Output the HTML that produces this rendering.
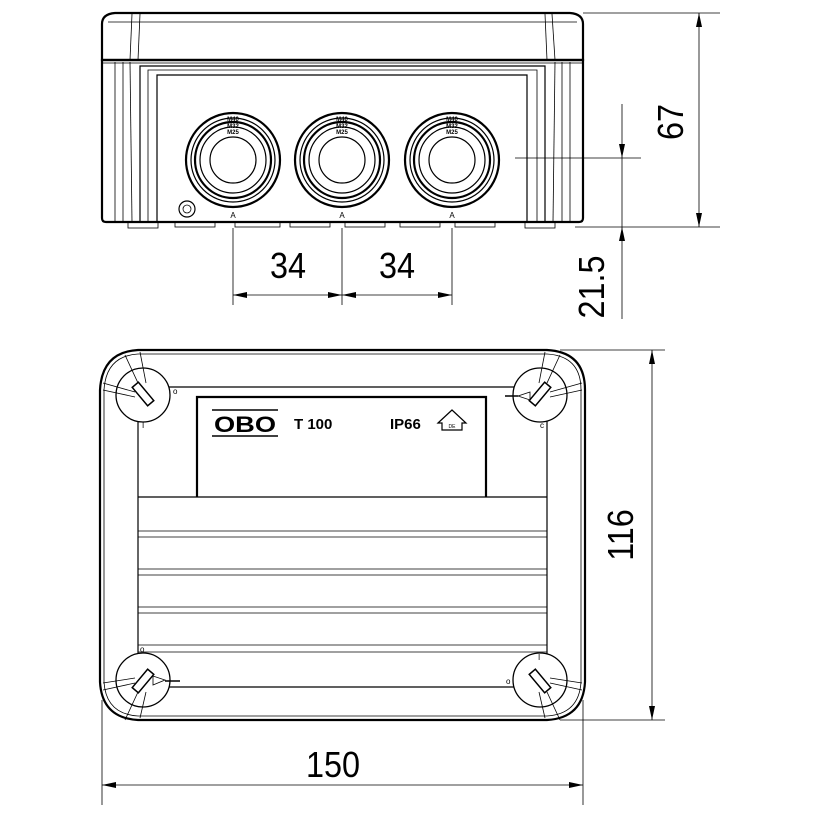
<!DOCTYPE html>
<html><head><meta charset="utf-8"><style>
html,body{margin:0;padding:0;background:#fff;width:820px;height:820px;overflow:hidden}
svg{display:block}
text{font-family:"Liberation Sans",sans-serif;fill:#000}
.t{stroke:#000;stroke-width:1.2;fill:none}
.k{stroke:#000;stroke-width:2.2;fill:none}
.th{stroke:#000;stroke-width:0.8;fill:none}
.d{font-size:36px}
</style></head><body>
<svg width="820" height="820" viewBox="0 0 820 820" xmlns="http://www.w3.org/2000/svg">
<!-- TOP VIEW -->
<path class="k" d="M102,60 L102,24 Q102,14 115,13 L570,13 Q583,14 583,24 L583,60 Z"/>
<line class="th" x1="108" y1="22" x2="577" y2="22"/>
<line class="th" x1="132" y1="14" x2="130" y2="60"/><line class="th" x1="140" y1="14" x2="138" y2="60"/>
<line class="th" x1="552" y1="14" x2="555" y2="60"/><line class="th" x1="545" y1="14" x2="547" y2="60"/>
<path class="k" d="M102,60 L102,218 Q102,222 106,222 L579,222 Q583,222 583,218 L583,60 Z"/>
<line class="th" x1="102" y1="63" x2="583" y2="63"/>
<line class="th" x1="115" y1="62" x2="115" y2="222"/><line class="th" x1="123" y1="62" x2="123" y2="222"/>
<line class="th" x1="130" y1="62" x2="132" y2="222"/>
<line class="th" x1="570" y1="62" x2="570" y2="222"/><line class="th" x1="562" y1="62" x2="562" y2="222"/>
<line class="th" x1="555" y1="62" x2="553" y2="222"/>
<path class="t" d="M140,222 L140,66 L545,66 L545,222"/>
<path class="th" d="M148,222 L148,70 L537,70 L537,222"/>
<path class="t" d="M157,222 L157,75 L527,75 L527,222"/>
<g>
<rect x="128" y="222" width="30" height="6" class="th"/><rect x="175" y="222" width="40" height="5" class="th"/>
<rect x="235" y="222" width="45" height="5" class="th"/><rect x="290" y="222" width="40" height="5" class="th"/>
<rect x="345" y="222" width="40" height="5" class="th"/><rect x="400" y="222" width="40" height="5" class="th"/>
<rect x="455" y="222" width="40" height="5" class="th"/><rect x="525" y="222" width="30" height="6" class="th"/>
</g>
<g id="gl">
<circle cx="233" cy="160" r="47" class="k"/>
<circle cx="233" cy="160" r="42" class="t"/>
<circle cx="233" cy="160" r="38" class="k"/>
<circle cx="233" cy="160" r="33" class="t"/>
<circle cx="233" cy="160" r="23" class="t"/>
<text x="233" y="121" font-size="6" text-anchor="middle" font-weight="bold">M40</text>
<text x="233" y="128" font-size="6" text-anchor="middle" font-weight="bold">M32</text>
<text x="233" y="134" font-size="6" text-anchor="middle" font-weight="bold">M25</text>
</g>
<use href="#gl" x="109"/><use href="#gl" x="219"/>
<circle cx="187" cy="209" r="8" class="t"/><circle cx="187" cy="209" r="4" class="th"/>
<text x="233" y="218" font-size="8" text-anchor="middle">A</text>
<text x="342" y="218" font-size="8" text-anchor="middle">A</text>
<text x="452" y="218" font-size="8" text-anchor="middle">A</text>
<!-- dims top -->
<line class="th" x1="233" y1="228" x2="233" y2="305"/>
<line class="th" x1="342" y1="228" x2="342" y2="305"/>
<line class="th" x1="452" y1="228" x2="452" y2="305"/>
<line class="th" x1="233" y1="295" x2="452" y2="295"/>
<path d="M233,295 l14,-3 v6z M342,295 l-14,-3 v6z M342,295 l14,-3 v6z M452,295 l-14,-3 v6z"/>
<text class="d" transform="translate(288,278) scale(0.9,1)" text-anchor="middle">34</text>
<text class="d" transform="translate(397,278) scale(0.9,1)" text-anchor="middle">34</text>
<line class="th" x1="515" y1="158" x2="641" y2="158"/>
<line class="th" x1="575" y1="227" x2="720" y2="227"/>
<line class="th" x1="583" y1="13" x2="720" y2="13"/>
<line class="th" x1="622" y1="104" x2="622" y2="319"/>
<path d="M622,158 l-3,-14 h6z M622,227 l-3,14 h6z"/>
<line class="th" x1="699" y1="13" x2="699" y2="227"/>
<path d="M699,13 l-3,14 h6z M699,227 l-3,-14 h6z"/>
<text class="d" transform="translate(683,122) rotate(-90) scale(0.9,1)" text-anchor="middle">67</text>
<text class="d" transform="translate(604,287) rotate(-90) scale(0.9,1)" text-anchor="middle">21.5</text>
<!-- BOTTOM VIEW -->
<path class="k" d="M138,350 L547,350 Q585,352 585,390 L585,682 Q583,718 547,720 L138,720 Q102,718 100,682 L100,390 Q102,352 138,350 Z"/>
<path class="th" d="M138,354 L547,354 Q581,356 581,390 L581,682 Q579,714 547,716 L138,716 Q106,714 104,682 L104,390 Q106,356 138,354 Z"/>
<path class="t" d="M138,387 L547,387 L547,687 L138,687 Z"/>
<path class="k" d="M197,497 L197,397 L486,397 L486,497"/>
<line class="t" x1="138" y1="497" x2="547" y2="497"/>
<g class="th">
<line x1="138" y1="531" x2="547" y2="531"/><line x1="138" y1="537" x2="547" y2="537"/>
<line x1="138" y1="569" x2="547" y2="569"/><line x1="138" y1="575" x2="547" y2="575"/>
<line x1="138" y1="607" x2="547" y2="607"/><line x1="138" y1="613" x2="547" y2="613"/>
<line x1="138" y1="645" x2="547" y2="645"/><line x1="138" y1="652" x2="547" y2="652"/>
</g>
<g fill="#fff" stroke="#000" stroke-width="1.3">
<circle cx="143" cy="395" r="27"/><circle cx="540" cy="395" r="27"/>
<circle cx="143" cy="680" r="27"/><circle cx="540" cy="680" r="27"/>
</g>
<g stroke="#000" stroke-width="1.5" fill="#fff">
<rect x="139" y="382" width="8" height="24" transform="rotate(-40 143 394)"/>
<rect x="536" y="382" width="8" height="24" transform="rotate(40 540 394)"/>
<rect x="139" y="669" width="8" height="24" transform="rotate(40 143 681)"/>
<rect x="536" y="669" width="8" height="24" transform="rotate(-40 540 681)"/>
</g>
<g class="th">
<line x1="103" y1="383" x2="135" y2="392"/><line x1="103" y1="390" x2="135" y2="397"/><line x1="125" y1="355" x2="138" y2="383"/><line x1="140" y1="352" x2="146" y2="383"/>
<line x1="582" y1="383" x2="550" y2="392"/><line x1="582" y1="390" x2="550" y2="397"/><line x1="560" y1="355" x2="547" y2="383"/><line x1="545" y1="352" x2="539" y2="383"/>
<line x1="103" y1="690" x2="135" y2="683"/><line x1="103" y1="683" x2="135" y2="678"/><line x1="125" y1="720" x2="138" y2="692"/><line x1="140" y1="718" x2="146" y2="692"/>
<line x1="582" y1="690" x2="550" y2="683"/><line x1="582" y1="683" x2="550" y2="678"/><line x1="560" y1="720" x2="547" y2="692"/><line x1="545" y1="718" x2="539" y2="692"/>
</g>
<g font-size="8">
<text x="173" y="394">o</text><text x="540" y="428">c</text><text x="140" y="652">o</text><text x="506" y="684">o</text>
<text x="142" y="428">I</text><text x="538" y="660">I</text>
</g>
<line x1="143" y1="690" x2="180" y2="680" stroke="#000" stroke-width="0"/>
<path class="th" d="M153,685 L165,680 L153,676 Z"/><line x1="165" y1="681" x2="180" y2="681" stroke="#000" stroke-width="1.5"/>
<path class="th" d="M530,392 L518,396 L530,400 Z"/><line x1="505" y1="396" x2="518" y2="396" stroke="#000" stroke-width="1.5"/>
<line x1="212" y1="410" x2="278" y2="410" stroke="#000" stroke-width="1.5"/>
<line x1="212" y1="436" x2="278" y2="436" stroke="#000" stroke-width="1.5"/>
<text x="245" y="432" font-size="22" text-anchor="middle" font-weight="bold" textLength="62" lengthAdjust="spacingAndGlyphs">OBO</text>
<text x="294" y="429" font-size="15" font-weight="bold">T 100</text>
<text x="390" y="429" font-size="15" font-weight="bold">IP66</text>
<path class="t" d="M438,423 L452,410 L466,423 L462,423 L462,430 L442,430 L442,423 Z"/>
<text x="452" y="428" font-size="5" text-anchor="middle">DE</text>
<!-- dims bottom -->
<line class="th" x1="560" y1="350" x2="665" y2="350"/>
<line class="th" x1="560" y1="720" x2="665" y2="720"/>
<line class="th" x1="652" y1="350" x2="652" y2="720"/>
<path d="M652,350 l-3,14 h6z M652,720 l-3,-14 h6z"/>
<text class="d" transform="translate(633,535) rotate(-90) scale(0.9,1)" text-anchor="middle">116</text>
<line class="th" x1="102" y1="700" x2="102" y2="805"/>
<line class="th" x1="583" y1="700" x2="583" y2="805"/>
<line class="th" x1="102" y1="785" x2="583" y2="785"/>
<path d="M102,785 l14,-3 v6z M583,785 l-14,-3 v6z"/>
<text class="d" transform="translate(333,777) scale(0.9,1)" text-anchor="middle">150</text>
</svg>
</body></html>
